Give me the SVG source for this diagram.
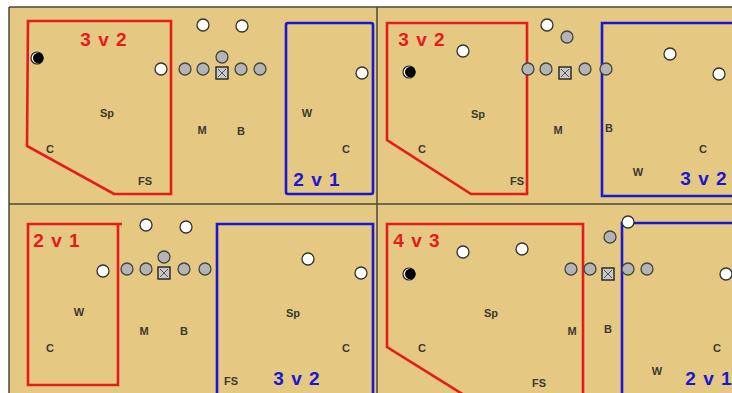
<svg xmlns="http://www.w3.org/2000/svg" width="732" height="393" viewBox="0 0 732 393">
<style>
.field{fill:#E5C881}
.div{stroke:#4a4a40;stroke-width:1.5;fill:none}
.red{stroke:#E41C1C;stroke-width:2.6;fill:none;stroke-linejoin:miter}
.blue{stroke:#1818D4;stroke-width:2.6;fill:none}
.w{fill:#fff;stroke:#333;stroke-width:1.3}
.g{fill:#b4b4b4;stroke:#444;stroke-width:1.3}
.lbl{font-family:"Liberation Sans",Arial,sans-serif;font-weight:bold;font-size:11px;fill:#3a3a30;text-anchor:middle}
.tr{font-family:"Liberation Sans",Arial,sans-serif;font-weight:bold;font-size:19px;fill:#E41C1C;text-anchor:middle;letter-spacing:1px}
.tb{font-family:"Liberation Sans",Arial,sans-serif;font-weight:bold;font-size:19px;fill:#1818D4;text-anchor:middle;letter-spacing:1px}
</style>
<defs>
<g id="box"><rect x="-6" y="-6" width="12" height="12" fill="#c8c8c8" stroke="#222" stroke-width="1.4"/><path d="M-4,-4 L4,4 M4,-4 L-4,4" stroke="#555" stroke-width="1"/></g>
<g id="blk"><circle r="6" fill="#fff" stroke="#222" stroke-width="1.2"/><circle cx="1.3" r="5.3" fill="#000"/></g>
</defs>
<rect width="732" height="393" fill="#fff"/>
<rect class="field" x="9" y="7" width="723" height="386"/>
<g id="dividers">
<path class="div" d="M9,7 H732 M9,7 V393 M377,7 V393 M9,204 H732"/>
</g>
<g id="connectors">
<path class="red" d="M28,21 H171 V194 H114 L27,146 Z"/>
<rect class="blue" x="286" y="23" width="87" height="171" rx="2"/>
<path class="red" d="M387,23 H527 V194 H471 L387,140 Z"/>
<path class="blue" d="M740,23 H602 V196 H740"/>
<path class="red" d="M122,224 H28 V385 H118 V224"/>
<path class="blue" d="M217,400 V224 H373 V400"/>
<path class="red" d="M472,400 L387,347 V224 H583 V400"/>
<path class="blue" d="M622,400 V223 H740"/>
</g>
<g id="q1">
<use href="#blk" x="37" y="58"/>
<circle class="w" cx="161" cy="69" r="6"/>
<circle class="g" cx="185" cy="69" r="6"/>
<circle class="g" cx="203" cy="69" r="6"/>
<circle class="g" cx="222" cy="57" r="6"/>
<circle class="g" cx="241" cy="69" r="6"/>
<circle class="g" cx="260" cy="69" r="6"/>
<use href="#box" x="222" y="73"/>
<circle class="w" cx="203" cy="25" r="6"/>
<circle class="w" cx="242" cy="26" r="6"/>
<circle class="w" cx="362" cy="73" r="6"/>
<text class="tr" x="104" y="46">3 v 2</text>
<text class="tb" x="317" y="186">2 v 1</text>
<text class="lbl" x="107" y="117">Sp</text>
<text class="lbl" x="50" y="153">C</text>
<text class="lbl" x="145" y="185">FS</text>
<text class="lbl" x="202" y="134">M</text>
<text class="lbl" x="241" y="135">B</text>
<text class="lbl" x="307" y="117">W</text>
<text class="lbl" x="346" y="153">C</text>
</g>
<g id="q2">
<circle class="w" cx="463" cy="51" r="6"/>
<use href="#blk" x="409" y="72"/>
<circle class="g" cx="528" cy="69" r="6"/>
<circle class="g" cx="546" cy="69" r="6"/>
<circle class="g" cx="567" cy="37" r="6"/>
<circle class="g" cx="585" cy="69" r="6"/>
<circle class="g" cx="606" cy="69" r="6"/>
<use href="#box" x="565" y="73"/>
<circle class="w" cx="547" cy="25" r="6"/>
<circle class="w" cx="670" cy="54" r="6"/>
<circle class="w" cx="719" cy="74" r="6"/>
<text class="tr" x="422" y="46">3 v 2</text>
<text class="tb" x="704" y="185">3 v 2</text>
<text class="lbl" x="478" y="118">Sp</text>
<text class="lbl" x="422" y="153">C</text>
<text class="lbl" x="517" y="185">FS</text>
<text class="lbl" x="558" y="134">M</text>
<text class="lbl" x="609" y="132">B</text>
<text class="lbl" x="703" y="153">C</text>
<text class="lbl" x="638" y="176">W</text>
</g>
<g id="q3">
<circle class="w" cx="103" cy="271" r="6"/>
<circle class="g" cx="127" cy="269" r="6"/>
<circle class="g" cx="146" cy="269" r="6"/>
<circle class="g" cx="164" cy="257" r="6"/>
<circle class="g" cx="184" cy="269" r="6"/>
<circle class="g" cx="205" cy="269" r="6"/>
<use href="#box" x="164" y="273"/>
<circle class="w" cx="146" cy="225" r="6"/>
<circle class="w" cx="186" cy="227" r="6"/>
<circle class="w" cx="308" cy="259" r="6"/>
<circle class="w" cx="361" cy="273" r="6"/>
<text class="tr" x="57" y="247">2 v 1</text>
<text class="tb" x="297" y="385">3 v 2</text>
<text class="lbl" x="79" y="316">W</text>
<text class="lbl" x="50" y="352">C</text>
<text class="lbl" x="144" y="335">M</text>
<text class="lbl" x="184" y="335">B</text>
<text class="lbl" x="293" y="317">Sp</text>
<text class="lbl" x="346" y="352">C</text>
<text class="lbl" x="231" y="385">FS</text>
</g>
<g id="q4">
<circle class="w" cx="463" cy="252" r="6"/>
<circle class="w" cx="522" cy="249" r="6"/>
<use href="#blk" x="409" y="274"/>
<circle class="g" cx="571" cy="269" r="6"/>
<circle class="g" cx="590" cy="269" r="6"/>
<circle class="g" cx="610" cy="237" r="6"/>
<circle class="g" cx="628" cy="269" r="6"/>
<circle class="g" cx="647" cy="269" r="6"/>
<use href="#box" x="608" y="274"/>
<circle class="w" cx="628" cy="222" r="6"/>
<circle class="w" cx="726" cy="274" r="6"/>
<text class="tr" x="417" y="247">4 v 3</text>
<text class="tb" x="709" y="385">2 v 1</text>
<text class="lbl" x="491" y="317">Sp</text>
<text class="lbl" x="422" y="352">C</text>
<text class="lbl" x="539" y="387">FS</text>
<text class="lbl" x="572" y="335">M</text>
<text class="lbl" x="608" y="333">B</text>
<text class="lbl" x="717" y="352">C</text>
<text class="lbl" x="657" y="375">W</text>
</g>
</svg>
